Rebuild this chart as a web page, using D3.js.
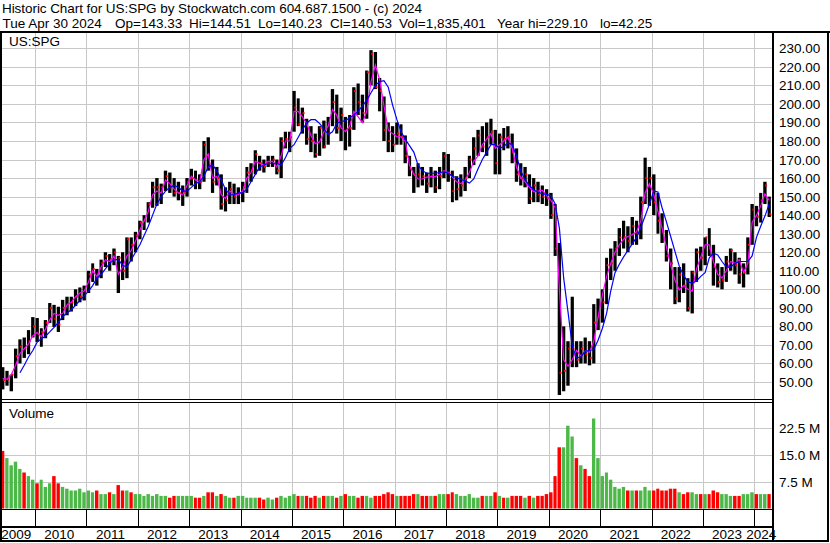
<!DOCTYPE html>
<html><head><meta charset="utf-8">
<script src="https://cdn.jsdelivr.net/npm/d3@7/dist/d3.min.js"></script>
<style>
html,body{margin:0;padding:0;background:#fff;}
svg{display:block;font-family:"Liberation Sans",Arial,sans-serif;}
text{white-space:pre;}
</style></head><body>
<svg id="chart" width="830" height="543"></svg>
<script>
// ---- DATA (monthly, May 2009 .. Apr 2024) ----
const firstMonth = [2009, 4];   // May 2009 (month index 4)
const monthCount = 180;

const priceHigh = [
  58,56,54,68,73,74,78,85,
  84.5,79,83.4,92.6,91.6,90.6,94.3,96,96,100,101,102,
  110,114,111,116,120,119,122,118,120,128,128,131,
  137,140,147,158,160,157,164,163,160,158,156,160,
  165,164,162,180,182,170,166,162,155,158,157,155,
  158,166,168,175,172,170,172,172,170,182,185,185,
  207,203,198,192,188,184,188,191,193,208,205,198,
  193,194,209,211,205,218,229,228,214,204,190,188,
  190,189,183,172,166,168,166,163,166,164,166,174,
  173,164,161,162,166,172,182,186,188,190,192,186,
  184,187,188,184,176,168,166,162,160,158,156,154,
  152,146,125,80,72,96,72,72,74,72,92,95,
  100,117,122,126,133,137,134,139,137,150,171,166,
  162,152,141,132,122,112,112,114,106,110,122,123,
  128,133,124,114,112,118,122,120,117,114,128,146,
  145,152,158,150
];
const priceLow = [
  46,48,45,52,60,63,65,74,
  71.6,69,73.6,81.8,79.7,77,83.4,86,88,91,93,94,
  98,104,102,106,112,110,113,98,105,106,115,120,
  127,132,136,144,145,146,153,152,150,148,145,150,
  156,154,154,158,164,152,156,143,142,146,146,146,
  147,152,158,162,164,163,166,166,162,160,176,174,
  185,188,184,178,174,171,172,176,178,188,184,180,
  175,177,186,194,190,192,210,208,196,180,174,174,
  178,178,168,161,152,155,156,152,155,152,154,160,
  158,147,148,150,153,160,167,172,174,172,178,162,
  162,175,176,168,158,156,155,146,147,147,146,145,
  138,118,43,45,48,58,58,60,60,59,60,78,
  82,92,105,110,118,122,120,124,124,127,146,145,
  140,130,125,115,100,92,93,98,88,87,104,110,
  113,118,102,101,100,104,110,108,103,101,108,124,
  134,136,146,139
];
const priceClose = [
  51,51.4,54,64,69,68,72,80,
  76,77,82,90,84,81,90,92,93,96,96,99.5,
  108,111,107,114,118,116,120,117,110,127,124,129,
  136,137,146,155,155,155,161,155,152,152,152,158,
  160,159,158,178,166,158,160,146,148,154,150,152,
  155,163,164,173,168,166,168,170,164,180,181,182,
  198,189,195,181,180,173,187,177,184,201,187,194,
  186,187,207,201,195,217,227,209,207,186,180,178,
  184,182,172,165,162,162,161,157,161,155,161,172,
  163,153,154,156,160,170,176,183,177,182,185,168,
  182,181,182,174,162,160,162,149,156,151,150,149,
  140,122,55,56,68,68,62,68,65,63,82,85,
  93,113,114,122,128,128,126,134,130,147,160,160,
  147,137,131,118,114,95,108,102,90,109,120,117,
  128,122,112,104,105,115,121,113,108,109,124,143,
  139,148,156,140.5
];
const shortMA = [
  52,51.5,54,59,65.4,68,70.5,75,
  76.7,74.5,78.5,83.5,87,86,87,91.6,93,96,98,99,
  104,110,107,112,116,115,118,108,112,118,121,126,
  132,137,142,151,153,152,159,157,154,152,151,156,
  161,159,158,170,173,160,161,151,149,153,151,151,
  153,160,163,169,168,167,169,169,166,172,180,180,
  196,196,193,189.5,183,178.5,179.5,185,188,197,194,187,
  185,188,196,193,190,196,212,221,213,199,186,184,
  182.3,182.3,180,167,162,159.5,159.5,160.5,160.8,160.8,162,164,
  163,160.5,158,157,159,163,169,172,178,181,184,176,
  178,180,182,176,166,160,158,155,152.6,153,153.5,150.5,
  148,144,100,62,58.5,62,67,64,66.7,66,72,85,
  97,107,114,120,124,127,128.5,129.5,131,137,152,157,
  151,142,133,123,113,105,99.6,102,100,99,111,117.5,
  124,124,115,108,106,110,115,114,116,109,114,136,
  140,145,151.5,148
];
const longMA = [
  null,null,null,null,55,59,63.5,67,
  71.5,73.3,74.7,77,79.5,82.2,85.2,87.2,89,91.4,94,96.5,
  99,102,106,108,111,114,116,116,113,112,116,120,
  124,129,134,140,146,150,153,155,156,155,153,153,
  155,157,158,161,166,167,164,159,154,151,151,152,
  152,154,158,162,166,167,168,168,168,167,171,176,
  178,182,186,189.7,191.5,191.5,189.5,186.5,183.5,185,189.5,190.5,
  191,192.5,194,196,199,202,206,210,212,212.5,209,199.5,
  191.5,185,181,177.5,174,167,164,162.6,162.6,162.6,163,163.4,
  162.7,161,160.2,159.3,158.5,157.3,159.5,165,170,174,178,178,
  176,177,179,178,172,164,159,156,153.6,152.5,151.5,151.2,
  150.5,146,133,106,88,69.5,63,63.5,66.7,67,67.5,72.5,
  79,87,99,109,113.5,117.5,121,124.5,128,133.5,139.5,146,
  153,152.5,144,136.5,128.5,120.5,112.5,107.5,104,103.3,104.5,107,
  109,117,119.5,118.5,115,112,112,114,115,115,115,118,
  128,134,139.5,146
];
// volume in millions of shares
const volume = [
  16,14,12,13,11,10,9,8,
  7,8,6,7,9,7,6,5.5,5,5,5.5,4.5,
  5,4.5,5,4,4,4.5,4,6.5,5,5,4.5,4,
  4,3.5,4,3.5,4,3.5,3.5,3,3.5,3.5,3.5,3.5,
  3.5,3,3,3.5,4.5,4.5,3.5,4,3.5,3,3,3.5,
  3.5,3,3,3,3,2.5,3,2.5,3,3.5,3,3.5,
  4,3.5,3.5,3.5,3,3.5,3,3.5,3.5,3.5,3,3.5,
  4,3.5,3.5,3,3.5,3.5,3,3.5,3.5,4,4.5,4,
  3.5,3.5,3.5,3.5,4,4,3.5,3.5,3.5,3.5,4,4,
  4,4.5,4,3.5,3.5,4,3,3,3.5,3.5,3.5,4.5,
  3.5,3,3,3.5,3.5,3.5,3,3.5,3,3.5,3.5,4,
  4.5,9,17,17,23,20,14,12,11,9,25,14,
  9,10,8,6,5.5,6,5,5,5,5,6,5,
  5,5.5,5,5,5.5,5.5,4.5,4,4.5,4.5,4,4,
  4,4,5,4.5,4,4,3.5,3.5,3.5,4,4,4.5,
  4,4,4,4
];
const priceTicks = [50,60,70,80,90,100,110,120,130,140,150,160,170,180,190,200,210,220,230];
const volumeTicks = [7.5, 15, 22.5];
const yearLabels = [2009,2010,2011,2012,2013,2014,2015,2016,2017,2018,2019,2020,2021,2022,2023,2024];
const headerLine1 = "Historic Chart for US:SPG by Stockwatch.com 604.687.1500 - (c) 2024";
const headerFields = ["Tue Apr 30 2024","Op=143.33","Hi=144.51","Lo=140.23","Cl=140.53","Vol=1,835,401","Year hi=229.10","lo=42.25"];
const symbolLabel = "US:SPG";
const volumeLabel = "Volume";

// ---- LAYOUT ----
const svg = d3.select("#chart");
const plotL = 1, plotR = 773;
const priceTop = 33, priceBot = 399;
const volTop = 403, volBot = 509;
const stripBot = 526;
const gridColor = "#c8c8c8";

const months = d3.timeMonth.range(new Date(firstMonth[0], firstMonth[1], 1), new Date(firstMonth[0], firstMonth[1] + monthCount, 1));
const dataStart = months[0];
const dataEnd = d3.timeMonth.offset(months[months.length - 1], 1);

const x = d3.scaleTime()
  .domain([new Date(2010, 0, 1), new Date(2024, 0, 1)])
  .range([35, 754.3]);
const y = d3.scaleLinear().domain([50, 230]).range([382, 48.3]);
const yv = d3.scaleLinear().domain([0, 22.5]).range([508.5, 427.5]);

const rows = months.map((m, i) => ({
  m, x0: x(m), x1: x(d3.timeMonth.offset(m, 1)),
  hi: priceHigh[i], lo: priceLow[i], c: priceClose[i], s: shortMA[i], l: longMA[i], v: volume[i],
  up: i === 0 ? false : priceClose[i] >= priceClose[i - 1]
}));
rows.forEach(r => r.xc = (r.x0 + r.x1) / 2);

// header
svg.append("text").attr("x", 2).attr("y", 13).attr("font-size", 13.5)
  .attr("textLength", 420).attr("lengthAdjust", "spacing").text(headerLine1);
const fieldX = [2.5, 115, 189, 258, 330, 399, 497, 600];
const h2 = svg.append("text").attr("y", 27.5).attr("font-size", 13.5);
headerFields.forEach((f, i) => h2.append("tspan").attr("x", fieldX[i]).text(f));

// clip
svg.append("clipPath").attr("id", "pclip").append("rect")
  .attr("x", plotL).attr("y", priceTop).attr("width", plotR - plotL).attr("height", priceBot - priceTop);
svg.append("clipPath").attr("id", "vclip").append("rect")
  .attr("x", plotL).attr("y", volTop).attr("width", plotR - plotL).attr("height", volBot - volTop);

const yearLines = d3.timeYear.range(new Date(2010, 0, 1), new Date(2024, 0, 2));

// gridlines
const gP = svg.append("g").attr("shape-rendering", "crispEdges");
gP.selectAll("line.h").data(priceTicks).join("line")
  .attr("x1", plotL).attr("x2", plotR).attr("y1", d => Math.round(y(d)) + 0.5).attr("y2", d => Math.round(y(d)) + 0.5)
  .attr("stroke", gridColor);
gP.selectAll("line.v").data(yearLines).join("line")
  .attr("x1", d => Math.round(x(d)) + 0.5).attr("x2", d => Math.round(x(d)) + 0.5)
  .attr("y1", priceTop).attr("y2", priceBot).attr("stroke", gridColor);
gP.selectAll("line.vh").data(volumeTicks).join("line")
  .attr("x1", plotL).attr("x2", plotR).attr("y1", d => Math.round(yv(d)) + 0.5).attr("y2", d => Math.round(yv(d)) + 0.5)
  .attr("stroke", gridColor);
gP.selectAll("line.vv").data(yearLines).join("line")
  .attr("x1", d => Math.round(x(d)) + 0.5).attr("x2", d => Math.round(x(d)) + 0.5)
  .attr("y1", volTop).attr("y2", volBot).attr("stroke", gridColor);
gP.selectAll("line.st").data(yearLines).join("line")
  .attr("x1", d => Math.round(x(d)) + 0.5).attr("x2", d => Math.round(x(d)) + 0.5)
  .attr("y1", volBot).attr("y2", stripBot).attr("stroke", "#000");

// price bars (monthly high-low range)
const gBars = svg.append("g").attr("clip-path", "url(#pclip)");
gBars.selectAll("rect.bar").data(rows).join("rect").attr("class", "bar")
  .attr("x", d => d.x0 + 0.5).attr("width", d => Math.max(1, d.x1 - d.x0 - 1))
  .attr("y", d => y(d.hi)).attr("height", d => y(d.lo) - y(d.hi))
  .attr("fill", "#000");
// close ticks (red)
gBars.selectAll("rect.cl").data(rows).join("rect").attr("class", "cl")
  .attr("x", d => d.x1 - 2).attr("width", 2)
  .attr("y", d => y(d.c) - 1).attr("height", 2)
  .attr("fill", "#ff0000");

// moving averages
const lineS = d3.line().x(d => d.xc).y(d => y(d.s));
const lineL = d3.line().defined(d => d.l != null).x(d => d.xc).y(d => y(d.l));
gBars.append("path").datum(rows).attr("d", lineS).attr("fill", "none").attr("stroke", "#ff00ff").attr("stroke-width", 1.2);
gBars.append("path").datum(rows).attr("d", lineL).attr("fill", "none").attr("stroke", "#0000ff").attr("stroke-width", 1.2);

// volume bars
const gVol = svg.append("g").attr("clip-path", "url(#vclip)");
gVol.selectAll("rect").data(rows).join("rect")
  .attr("x", d => d.x0 + 0.3).attr("width", d => Math.max(1, d.x1 - d.x0 - 0.9))
  .attr("y", d => yv(d.v)).attr("height", d => yv(0) - yv(d.v))
  .attr("fill", d => d.up ? "#4cb848" : "#ff0000");

// frame
const frame = svg.append("g").attr("fill", "#000").attr("shape-rendering", "crispEdges");
frame.append("rect").attr("x", 0).attr("y", 31).attr("width", 830).attr("height", 2);
frame.append("rect").attr("x", 0).attr("y", 31).attr("width", 2).attr("height", 511);
frame.append("rect").attr("x", 772).attr("y", 31).attr("width", 2).attr("height", 511);
frame.append("rect").attr("x", 827).attr("y", 31).attr("width", 2).attr("height", 511);
frame.append("rect").attr("x", 0).attr("y", 540).attr("width", 829).attr("height", 2);
frame.append("rect").attr("x", 0).attr("y", 399).attr("width", 773).attr("height", 1);
frame.append("rect").attr("x", 0).attr("y", 402).attr("width", 773).attr("height", 1);
frame.append("rect").attr("x", 0).attr("y", 509).attr("width", 773).attr("height", 1);
frame.append("rect").attr("x", 0).attr("y", 526).attr("width", 773).attr("height", 2);

// panel labels
svg.append("text").attr("x", 9).attr("y", 45.5).attr("font-size", 13.5).text(symbolLabel);
svg.append("text").attr("x", 9).attr("y", 418).attr("font-size", 13.5).text(volumeLabel);

// price axis labels
svg.append("g").selectAll("text").data(priceTicks).join("text")
  .attr("x", 779).attr("y", d => y(d) + 5).attr("font-size", 13.5)
  .text(d => d3.format(".2f")(d));
// volume axis labels
svg.append("g").selectAll("text").data(volumeTicks).join("text")
  .attr("x", 779).attr("y", d => yv(d) + 5).attr("font-size", 13.5)
  .text(d => d3.format(".1f")(d) + " M");

// year labels
svg.append("g").selectAll("text").data(yearLabels).join("text")
  .attr("x", yr => {
    const a = Math.max(x(new Date(yr, 0, 1)), x(dataStart));
    const b = Math.min(x(new Date(yr + 1, 0, 1)), x(dataEnd));
    return (a + b) / 2 - 1.5;
  })
  .attr("y", 539).attr("font-size", 13.5).attr("text-anchor", "middle")
  .text(d => d);
</script>
</body></html>
